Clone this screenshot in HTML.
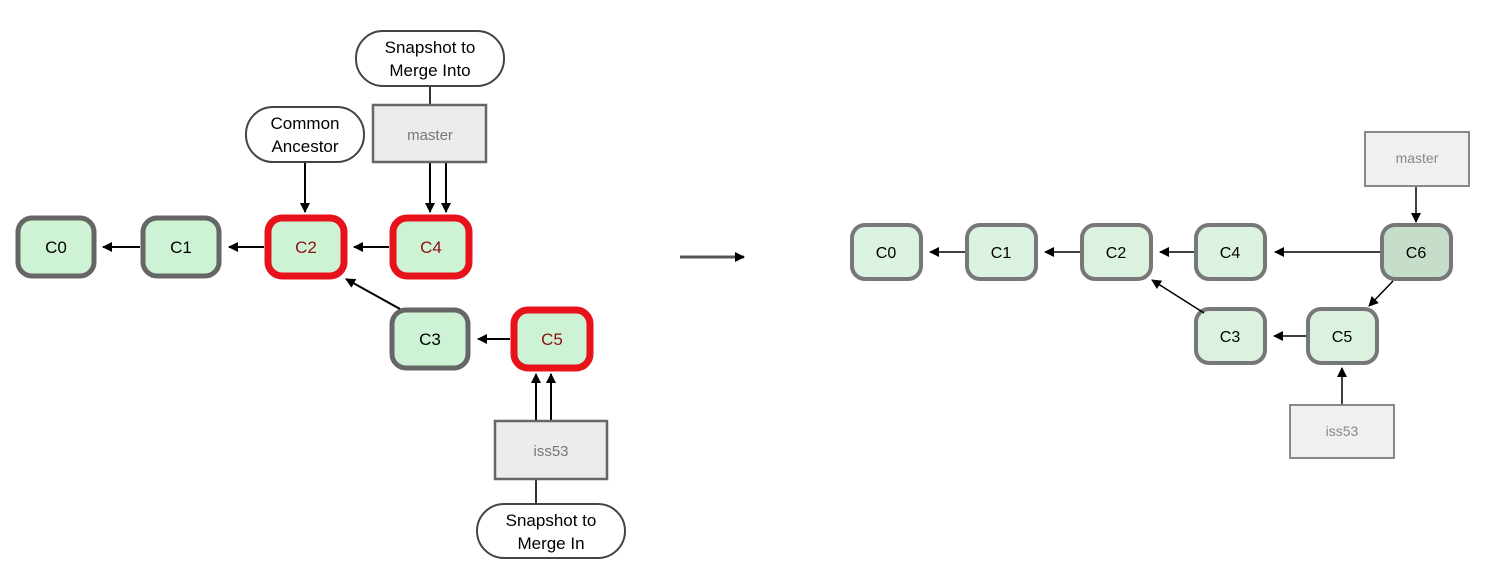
<!DOCTYPE html>
<html><head><meta charset="utf-8"><style>html,body{margin:0;padding:0;background:#fff}svg{display:block}</style></head>
<body>
<svg width="1492" height="572" viewBox="0 0 1492 572" xmlns="http://www.w3.org/2000/svg" font-family="Liberation Sans, sans-serif">
<defs>
<marker id="a" markerWidth="10" markerHeight="10" refX="9" refY="5" orient="auto" markerUnits="userSpaceOnUse"><path d="M0,0 L10,5 L0,10 z" fill="#000"/></marker>
</defs>
<!-- LEFT -->
<g stroke="#666" stroke-width="5" fill="#cdf3d4">
<rect x="18" y="218" width="76" height="58" rx="14"/>
<rect x="143" y="218" width="76" height="58" rx="14"/>
<rect x="392" y="310" width="76" height="58" rx="14"/>
</g>
<g stroke="#e8121b" stroke-width="7" fill="#cdf3d4">
<rect x="268" y="218" width="76" height="58" rx="14"/>
<rect x="393" y="218" width="76" height="58" rx="14"/>
<rect x="514" y="310" width="76" height="58" rx="14"/>
</g>
<g font-size="17" text-anchor="middle">
<text x="56" y="253">C0</text><text x="181" y="253">C1</text>
<text x="306" y="253" fill="#8b1010">C2</text><text x="431" y="253" fill="#8b1010">C4</text>
<text x="430" y="345">C3</text><text x="552" y="345" fill="#8b1010">C5</text>
</g>
<g stroke="#000" stroke-width="2" marker-end="url(#a)">
<line x1="140" y1="247" x2="103" y2="247"/>
<line x1="264" y1="247" x2="229" y2="247"/>
<line x1="389" y1="247" x2="354" y2="247"/>
<line x1="510" y1="339" x2="478" y2="339"/>
<line x1="400" y1="309" x2="346" y2="279"/>
<line x1="305" y1="162" x2="305" y2="212"/>
<line x1="430" y1="163" x2="430" y2="212"/>
<line x1="446" y1="163" x2="446" y2="212"/>
<line x1="536" y1="420" x2="536" y2="374"/>
<line x1="551" y1="420" x2="551" y2="374"/>
<line x1="680" y1="257" x2="744" y2="257" stroke="#555" stroke-width="3"/>
</g>
<line x1="430" y1="86" x2="430" y2="105" stroke="#333" stroke-width="2"/>
<line x1="536" y1="480" x2="536" y2="504" stroke="#333" stroke-width="2"/>
<rect x="373" y="105" width="113" height="57" fill="#ececec" stroke="#666" stroke-width="2.5"/>
<text x="430" y="140" font-size="15" fill="#777" text-anchor="middle">master</text>
<rect x="495" y="421" width="112" height="58" fill="#ececec" stroke="#666" stroke-width="2.5"/>
<text x="551" y="456" font-size="15" fill="#777" text-anchor="middle">iss53</text>
<g fill="#fff" stroke="#444" stroke-width="2">
<rect x="356" y="31" width="148" height="55" rx="27"/>
<rect x="246" y="107" width="118" height="55" rx="27"/>
<rect x="477" y="504" width="148" height="54" rx="27"/>
</g>
<g font-size="17" text-anchor="middle">
<text x="430" y="53">Snapshot to</text><text x="430" y="76">Merge Into</text>
<text x="305" y="129">Common</text><text x="305" y="152">Ancestor</text>
<text x="551" y="526">Snapshot to</text><text x="551" y="549">Merge In</text>
</g>
<!-- RIGHT -->
<g stroke="#777" stroke-width="4" fill="#dcf2e0">
<rect x="852" y="225" width="69" height="54" rx="13"/>
<rect x="967" y="225" width="69" height="54" rx="13"/>
<rect x="1082" y="225" width="69" height="54" rx="13"/>
<rect x="1196" y="225" width="69" height="54" rx="13"/>
<rect x="1196" y="309" width="69" height="54" rx="13"/>
<rect x="1308" y="309" width="69" height="54" rx="13"/>
<rect x="1382" y="225" width="69" height="54" rx="13" fill="#c6ddca"/>
</g>
<g font-size="16" text-anchor="middle">
<text x="886" y="258">C0</text><text x="1001" y="258">C1</text><text x="1116" y="258">C2</text>
<text x="1230" y="258">C4</text><text x="1230" y="342">C3</text><text x="1342" y="342">C5</text>
<text x="1416" y="258">C6</text>
</g>
<g stroke="#000" stroke-width="1.5" marker-end="url(#a)">
<line x1="965" y1="252" x2="930" y2="252"/>
<line x1="1080" y1="252" x2="1045" y2="252"/>
<line x1="1194" y1="252" x2="1160" y2="252"/>
<line x1="1380" y1="252" x2="1275" y2="252"/>
<line x1="1306" y1="336" x2="1274" y2="336"/>
<line x1="1204" y1="313" x2="1152" y2="280"/>
<line x1="1393" y1="281" x2="1369" y2="306"/>
<line x1="1416" y1="187" x2="1416" y2="222"/>
<line x1="1342" y1="405" x2="1342" y2="368"/>
</g>
<rect x="1365" y="132" width="104" height="54" fill="#f0f0ee" stroke="#888" stroke-width="2"/>
<text x="1417" y="163" font-size="14" fill="#888" text-anchor="middle">master</text>
<rect x="1290" y="405" width="104" height="53" fill="#f0f0ee" stroke="#888" stroke-width="2"/>
<text x="1342" y="436" font-size="14" fill="#888" text-anchor="middle">iss53</text>
</svg>
</body></html>
